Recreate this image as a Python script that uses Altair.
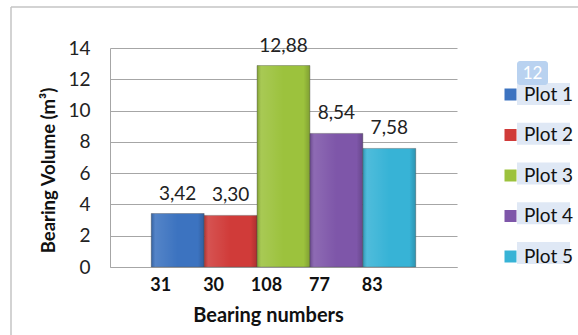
import altair as alt
import pandas as pd

bearings = ["31", "30", "108", "77", "83"]
volumes = [3.42, 3.30, 12.88, 8.54, 7.58]
plots = ["Plot 1", "Plot 2", "Plot 3", "Plot 4", "Plot 5"]
colors = ["#3c73c0", "#d03b39", "#9cc23d", "#7e56a9", "#37b3d6"]
y_ticks = [0, 2, 4, 6, 8, 10, 12, 14]

FONT = "Lato"
df = pd.DataFrame({"bearing": bearings, "volume": volumes, "plot": plots})

W, H = 347, 219
YMAX = 14
PX = H / YMAX  # pixels per unit, used only for legend-highlight decoration

base = alt.Chart(df)
xenc = alt.X("bearing:N", sort=bearings,
             scale=alt.Scale(paddingInner=0, paddingOuter=0.78),
             axis=alt.Axis(title="Bearing numbers", labelAngle=0, labelOffset=-17,
                           labelFontWeight="bold", labelFontSize=18, labelFont=FONT,
                           labelColor="#111111", labelPadding=9, tickSize=0,
                           domainColor="#a6a6a6", titleFont=FONT, titleFontSize=20,
                           titleFontWeight="bold", titleColor="#111111",
                           titleX=158, titleY=54, titleBaseline="alphabetic"))
yenc = alt.Y("volume:Q", scale=alt.Scale(domain=[0, YMAX], nice=False),
             axis=alt.Axis(title="Bearing Volume (m³)", values=y_ticks, tickCount=8,
                           format="d", tickSize=0, labelOverlap=False,
                           labelPadding=20, labelFont=FONT, labelFontSize=19,
                           labelColor="#222222", grid=True, gridColor="#a6a6a6",
                           domainColor="#a6a6a6", titleFont=FONT, titleFontSize=18.5,
                           titleFontWeight="bold", titleColor="#111111",
                           titleX=-62, titleY=122, titleAlign="center",
                           titleBaseline="middle"))

bars = base.mark_bar(strokeWidth=0.8, stroke="#55555580").encode(
    x=xenc, y=yenc,
    color=alt.Color("plot:N", scale=alt.Scale(domain=plots, range=colors),
                    legend=alt.Legend(title=None, orient="none", legendX=391, legendY=37,
                                      symbolType="square", symbolSize=144,
                                      symbolStrokeWidth=0, labelFont=FONT,
                                      labelFontSize=19, labelColor="#111111",
                                      labelOffset=4, rowPadding=20.5, padding=0)),
)

shade = base.mark_bar(fill=alt.Gradient(
    gradient="linear", x1=0, x2=1, y1=0, y2=0,
    stops=[alt.GradientStop(color="rgba(0,0,0,0.18)", offset=0),
           alt.GradientStop(color="rgba(255,255,255,0.12)", offset=0.08),
           alt.GradientStop(color="rgba(255,255,255,0.0)", offset=0.5),
           alt.GradientStop(color="rgba(0,0,0,0.0)", offset=0.88),
           alt.GradientStop(color="rgba(0,0,0,0.18)", offset=1)])).encode(
    x=xenc, y=yenc)

labels = base.transform_calculate(
    lab="replace(format(datum.volume, '.2f'), '.', ',')"
).mark_text(baseline="alphabetic", dy=-14, font=FONT, fontSize=19,
            color="#222222").encode(
    x=xenc, y=yenc, text="lab:N")

one = alt.Data(values=[{"a": 1}])
frame_v = alt.Chart(one).mark_rule(color="#c4c4c4", strokeWidth=1.5).encode(
    x=alt.value(-99), y=alt.value(-41), y2=alt.value(300))
frame_h = alt.Chart(one).mark_rule(color="#c4c4c4", strokeWidth=1.5).encode(
    x=alt.value(-99), x2=alt.value(480), y=alt.value(-41))

# light selection highlight behind the legend labels (decoration)
hl = alt.Chart(pd.DataFrame({"plot": plots})).transform_window(
    idx="row_number()"
).transform_calculate(
    ytop=f"{YMAX} - (35 + 39.75 * (datum.idx - 1)) / {PX}",
    ybot=f"{YMAX} - (57 + 39.75 * (datum.idx - 1)) / {PX}",
).mark_rect(color="#dfe8f5").encode(
    x=alt.value(407), x2=alt.value(460),
    y=alt.Y("ytop:Q", scale=alt.Scale(domain=[0, YMAX], nice=False)),
    y2="ybot:Q",
)

badge = alt.Chart(one).mark_rect(color="#b9d2f0", cornerRadius=3).encode(
    x=alt.value(407), x2=alt.value(438), y=alt.value(13), y2=alt.value(37))
badge_t = alt.Chart(one).mark_text(text="12", color="white", font=FONT, fontSize=17,
                                    align="center", baseline="middle").encode(
    x=alt.value(422.5), y=alt.value(25.5))

chart = alt.layer(
    frame_v, frame_h, hl, badge, badge_t, bars, shade, labels
).properties(
    width=W, height=H,
    autosize=alt.AutoSizeParams(type="none"),
    padding={"left": 110, "top": 48, "right": 121, "bottom": 68},
    background="white",
).configure_view(stroke=None)

chart.save("out.html", embed_options={"renderer": "svg", "actions": False})
